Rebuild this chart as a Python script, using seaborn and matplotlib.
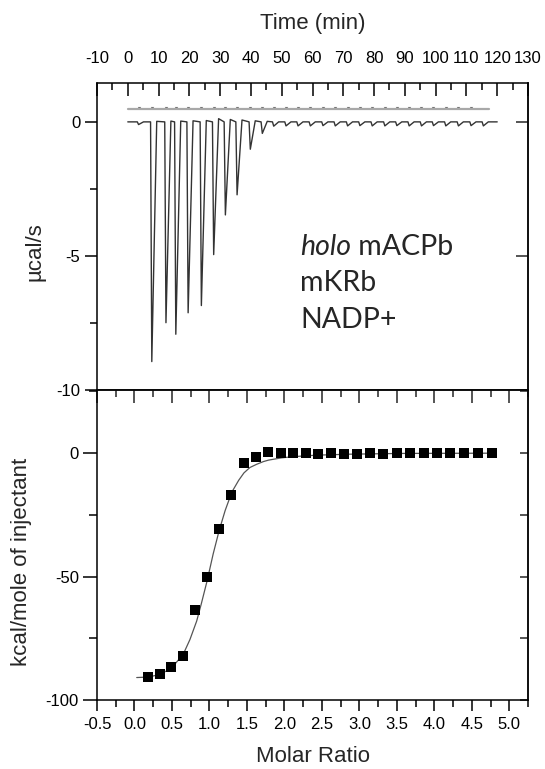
import numpy as np
import pandas as pd
import matplotlib
matplotlib.use("Agg")
import matplotlib.pyplot as plt
import seaborn as sns
from matplotlib.ticker import MultipleLocator

# ---------------- data ----------------
# raw thermogram: injection times (min) and peak heights (ucal/s)
inj_time = [3.5, 7.8, 12.4, 15.6, 19.6, 23.9, 27.9, 31.7, 35.5, 39.8, 43.7,
            47.4, 51.4, 55.3, 59.3, 63.4, 67.4, 71.4, 75.4, 79.4, 83.5,
            87.4, 91.4, 95.4, 99.3, 103.3, 107.4, 111.5, 115.5]
peak_depth = [-0.10, -8.94, -7.49, -7.92, -7.12, -6.85, -4.95, -3.47, -2.72,
              -1.02, -0.43, -0.16, -0.15, -0.15, -0.15, -0.14, -0.15, -0.15,
              -0.14, -0.15, -0.15, -0.14, -0.15, -0.15, -0.14, -0.15, -0.15,
              -0.14, -0.15]
overshoot = [0.0, 0.02, 0.03, 0.03, 0.04, 0.05, 0.12, 0.09, 0.07, 0.04, 0.02,
             0.0, 0.0, 0.0, 0.0, 0.0, 0.0, 0.0, 0.0, 0.0, 0.0, 0.0, 0.0, 0.0,
             0.0, 0.0, 0.0, 0.0, 0.0]
run_start, run_end = 0.0, 120.0
ref_level = 0.47
ref_end = 117.4

# integrated heats
molar_ratio = [0.183, 0.334, 0.485, 0.645, 0.805, 0.966, 1.126, 1.290, 1.456,
               1.620, 1.786, 1.950, 2.114, 2.284, 2.454, 2.627, 2.796, 2.969,
               3.148, 3.322, 3.500, 3.677, 3.856, 4.034, 4.211, 4.398, 4.581,
               4.764]
heat = [-90.8, -89.4, -86.5, -82.3, -63.6, -50.0, -30.8, -16.8, -3.8, -1.4,
        0.5, 0.1, 0.0, 0.0, -0.2, 0.0, -0.2, -0.2, 0.0, -0.3, 0.0, 0.0, 0.0,
        0.0, 0.0, 0.0, 0.0, 0.0]

# fitted curve
fit_x = [0.03, 0.19, 0.34, 0.49, 0.65, 0.74, 0.83, 0.89, 0.97, 1.05, 1.13,
         1.21, 1.30, 1.39, 1.46, 1.54, 1.63, 1.72, 1.79, 1.96, 2.12, 2.43,
         2.88, 3.55, 4.77]
fit_y = [-90.9, -90.7, -89.6, -87.2, -81.5, -75.5, -68.0, -61.2, -51.6,
         -40.8, -31.3, -23.2, -15.7, -11.0, -8.0, -5.8, -4.5, -3.4, -2.8,
         -1.9, -1.4, -0.8, -0.4, -0.1, 0.0]

label_lines = ["holo", "mACPb", "mKRb", "NADP+"]

# ---------------- build thermogram polyline ----------------
tx, ty = [run_start], [0.0]
for i, (t, d, ov) in enumerate(zip(inj_time, peak_depth, overshoot)):
    tx += [t - 0.4, t, t + 1.6]
    ty += [0.0, d, ov]
tx.append(run_end)
ty.append(0.0)
thermo = pd.DataFrame({"t": tx, "p": ty})

sns.set_theme(style="ticks")
plt.rcParams["font.family"] = ["Liberation Sans", "DejaVu Sans"]

fig = plt.figure(figsize=(5.45, 7.69), dpi=100)
L, W = 97 / 545, 431 / 545
ax1 = fig.add_axes([L, 1 - 390 / 769, W, 307 / 769])
ax2 = fig.add_axes([L, 1 - 700 / 769, W, 310 / 769])

spine_lw = 1.1
TICKFS = 12
LABELFS = 16
ANNFS = 20.5
ANNFAM = ["Lato", "DejaVu Sans"]

# ---------------- top panel ----------------
sns.lineplot(x=[run_start, ref_end], y=[ref_level, ref_level], ax=ax1,
             color="#a8a8a8", lw=1.6, estimator=None, sort=False)
ref_marks = pd.DataFrame({"t": inj_time[:-1], "p": [ref_level] * (len(inj_time) - 1)})
sns.scatterplot(data=ref_marks, x="t", y="p", ax=ax1, marker=7, s=6,
                color="#707070", linewidth=0)
sns.lineplot(data=thermo, x="t", y="p", ax=ax1, color="#333333", lw=1.0,
             estimator=None, sort=False)

ax1.set_xlim(-10, 130)
ax1.set_ylim(-10, 1.45)
ax1.xaxis.tick_top()
ax1.xaxis.set_label_position("top")
ax1.xaxis.set_major_locator(MultipleLocator(10))
ax1.xaxis.set_minor_locator(MultipleLocator(5))
ax1.yaxis.set_major_locator(MultipleLocator(5))
ax1.yaxis.set_minor_locator(MultipleLocator(2.5))
ax1.tick_params(axis="x", which="major", direction="in", length=9, width=1.1,
                labelsize=TICKFS, pad=12, top=True, bottom=False)
ax1.tick_params(axis="x", which="minor", direction="in", length=5, width=1.1,
                top=True, bottom=False)
ax1.tick_params(axis="y", which="major", direction="out", length=9, width=1.1,
                labelsize=TICKFS, pad=3)
ax1.tick_params(axis="y", which="minor", direction="out", length=5, width=1.1)
sec1 = ax1.secondary_yaxis("right")
sec1.yaxis.set_major_locator(MultipleLocator(5))
sec1.tick_params(axis="y", direction="in", length=9, width=1.1, labelright=False)
sec1.spines["right"].set_linewidth(spine_lw)
ax1.set_xlabel("Time (min)", fontsize=LABELFS)
ax1.set_ylabel("µcal/s", fontsize=LABELFS)
ax1.xaxis.label.set_va("center")
ax1.yaxis.label.set_va("center")
ax1.xaxis.set_label_coords(0.5, (390 - 24) / 307)
ax1.yaxis.set_label_coords((35 - 97) / 431, (390 - 252) / 307)
ax1.yaxis.set_major_formatter(matplotlib.ticker.FuncFormatter(lambda v, p: f"{v:g}"))
ax1.xaxis.set_major_formatter(matplotlib.ticker.FuncFormatter(lambda v, p: f"{v:g}"))

# annotation
t_holo = ax1.text(55.9, -4.96, label_lines[0], fontsize=ANNFS, style="italic",
                  family=ANNFAM, va="baseline", ha="left")
ax1.annotate(" " + label_lines[1], xy=(1, 0), xycoords=t_holo, fontsize=ANNFS,
             family=ANNFAM, va="bottom", ha="left")
ax1.text(55.9, -6.32, label_lines[2], fontsize=ANNFS, family=ANNFAM,
         va="baseline", ha="left")
ax1.text(55.9, -7.68, label_lines[3], fontsize=ANNFS, family=ANNFAM,
         va="baseline", ha="left")

# ---------------- bottom panel ----------------
sns.lineplot(x=fit_x, y=fit_y, ax=ax2, color="#555555", lw=0.9,
             estimator=None, sort=False)
sns.scatterplot(x=molar_ratio, y=heat, ax=ax2, marker="s", s=52,
                color="black", linewidth=0, zorder=3)
ax2.set_xlim(-0.5, 5.25)
ax2.set_ylim(-100, 25.6)
ax2.xaxis.set_major_locator(MultipleLocator(0.5))
ax2.xaxis.set_minor_locator(MultipleLocator(0.25))
ax2.yaxis.set_major_locator(MultipleLocator(50))
ax2.yaxis.set_minor_locator(MultipleLocator(25))
ax2.tick_params(axis="x", which="major", direction="out", length=8, width=1.1,
                labelsize=TICKFS, pad=4)
ax2.tick_params(axis="x", which="minor", direction="out", length=5, width=1.1)
ax2.tick_params(axis="y", which="major", direction="out", length=10, width=1.1,
                labelsize=TICKFS, pad=3)
ax2.tick_params(axis="y", which="minor", direction="out", length=6, width=1.1)
ax2.xaxis.set_major_formatter(matplotlib.ticker.FormatStrFormatter("%.1f"))
ax2.yaxis.set_major_formatter(matplotlib.ticker.FuncFormatter(lambda v, p: f"{v:g}"))
sec2x = ax2.secondary_xaxis("top")
sec2x.xaxis.set_major_locator(MultipleLocator(0.5))
sec2x.xaxis.set_minor_locator(MultipleLocator(0.25))
sec2x.tick_params(axis="x", which="major", direction="in", length=9, width=1.1,
                  labeltop=False)
sec2x.tick_params(axis="x", which="minor", direction="in", length=5, width=1.1)
sec2x.spines["top"].set_linewidth(spine_lw)
sec2y = ax2.secondary_yaxis("right")
sec2y.yaxis.set_major_locator(MultipleLocator(25))
sec2y.tick_params(axis="y", direction="in", length=6, width=1.1, labelright=False)
sec2y.spines["right"].set_linewidth(spine_lw)
ax2.set_xlabel("Molar Ratio", fontsize=LABELFS)
ax2.set_ylabel("kcal/mole of injectant", fontsize=LABELFS)
ax2.xaxis.label.set_va("center")
ax2.yaxis.label.set_va("center")
ax2.xaxis.set_label_coords(0.5, (700 - 757) / 310)
ax2.yaxis.set_label_coords((22 - 97) / 431, (700 - 562) / 310)

for ax in (ax1, ax2):
    for s in ax.spines.values():
        s.set_linewidth(spine_lw)
        s.set_color("black")
        s.set_visible(True)
    ax.tick_params(colors="black", which="both")

fig.savefig("out.png", dpi=100)
